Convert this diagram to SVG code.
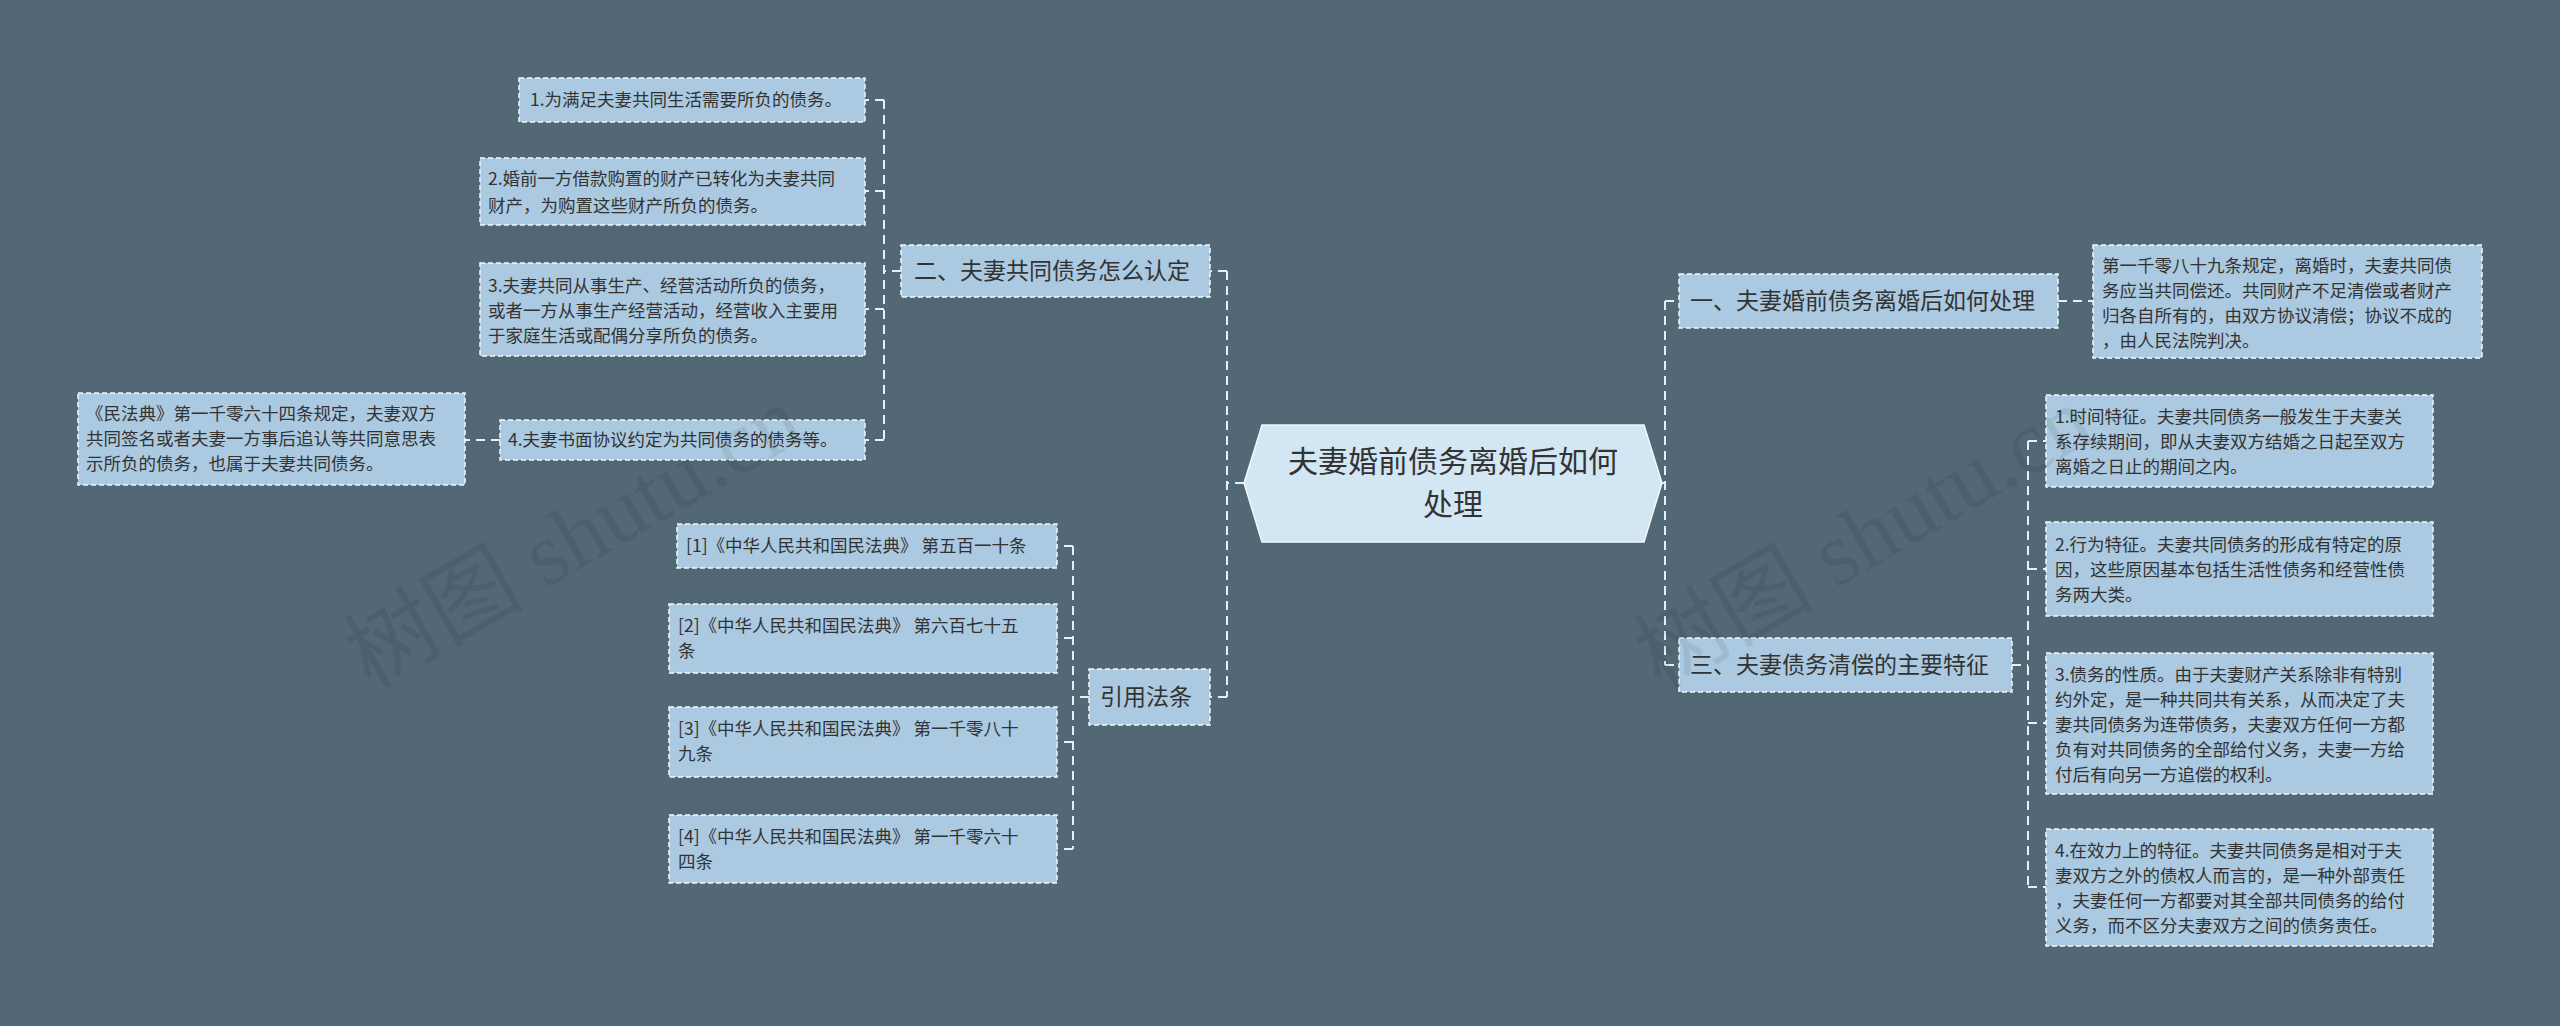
<svg xmlns="http://www.w3.org/2000/svg" width="2560" height="1026" viewBox="0 0 2560 1026">
<style>
.bg{fill:#526877}
.box{fill:#abc9e0;stroke:#f2f6f8;stroke-width:1.5;stroke-dasharray:5 3}
.t{font-family:"Noto Sans CJK SC","Liberation Sans",sans-serif;fill:#333;font-size:17.5px}
.m{font-size:23px}
.c{font-size:30px}
.ln{fill:none;stroke:#e8eef2;stroke-width:2;stroke-dasharray:9 6}
.wm{font-family:"Liberation Serif","Noto Sans CJK SC",serif;font-size:90px;fill:#000;opacity:0.07}
</style>
<rect class="bg" width="2560" height="1026"/>
<g id="connectors">
<path class="ln" d="M1244 483 H1227 M1227 271 V697 M1227 271 H1210 M1227 697 H1210"/>
<path class="ln" d="M901 271 H884 M884 100 V440 M884 100 H865 M884 191 H865 M884 309 H865 M884 440 H865 M500 440 H465"/>
<path class="ln" d="M1089 697 H1073 M1073 546 V849 M1073 546 H1057 M1073 638 H1057 M1073 742 H1057 M1073 849 H1057"/>
<path class="ln" d="M1662 483 H1665 M1665 301 V665 M1665 301 H1679 M1665 665 H1679 M2058 301 H2093"/>
<path class="ln" d="M2012 665 H2028 M2028 441 V887 M2028 441 H2046 M2028 569 H2046 M2028 723 H2046 M2028 887 H2046"/>
</g>
<g id="center">
<polygon points="1262,425 1644,425 1662,483 1644,542 1262,542 1244,483" fill="#d2e7f3" stroke="#f2f6f8" stroke-width="1.5"/>
<text class="t c" text-anchor="middle"><tspan x="1453" y="472">夫妻婚前债务离婚后如何</tspan><tspan x="1453" y="515">处理</tspan></text>
</g>
<g id="n2"><rect class="box" x="901" y="245" width="309" height="52"/><text class="t m" x="914" y="279">二、夫妻共同债务怎么认定</text></g>
<g id="n2a"><rect class="box" x="519" y="78" width="346" height="44"/><text class="t" x="530" y="106">1.为满足夫妻共同生活需要所负的债务。</text></g>
<g id="n2b"><rect class="box" x="480" y="158" width="385" height="67"/><text class="t"><tspan x="488" y="185">2.婚前一方借款购置的财产已转化为夫妻共同</tspan><tspan x="488" y="212">财产，为购置这些财产所负的债务。</tspan></text></g>
<g id="n2c"><rect class="box" x="480" y="263" width="385" height="93"/><text class="t"><tspan x="488" y="292">3.夫妻共同从事生产、经营活动所负的债务，</tspan><tspan x="488" y="317">或者一方从事生产经营活动，经营收入主要用</tspan><tspan x="488" y="342">于家庭生活或配偶分享所负的债务。</tspan></text></g>
<g id="n2d"><rect class="box" x="500" y="420" width="365" height="40"/><text class="t" x="508" y="446">4.夫妻书面协议约定为共同债务的债务等。</text></g>
<g id="n2d1"><rect class="box" x="78" y="393" width="387" height="92"/><text class="t"><tspan x="86" y="420">《民法典》第一千零六十四条规定，夫妻双方</tspan><tspan x="86" y="445">共同签名或者夫妻一方事后追认等共同意思表</tspan><tspan x="86" y="470">示所负的债务，也属于夫妻共同债务。</tspan></text></g>
<g id="n4"><rect class="box" x="1089" y="669" width="121" height="56"/><text class="t m" x="1100" y="705">引用法条</text></g>
<g id="n4a"><rect class="box" x="677" y="524" width="380" height="44"/><text class="t" x="686" y="552">[1]《中华人民共和国民法典》 第五百一十条</text></g>
<g id="n4b"><rect class="box" x="669" y="604" width="388" height="69"/><text class="t"><tspan x="678" y="632">[2]《中华人民共和国民法典》 第六百七十五</tspan><tspan x="678" y="657">条</tspan></text></g>
<g id="n4c"><rect class="box" x="669" y="707" width="388" height="70"/><text class="t"><tspan x="678" y="735">[3]《中华人民共和国民法典》 第一千零八十</tspan><tspan x="678" y="760">九条</tspan></text></g>
<g id="n4d"><rect class="box" x="669" y="815" width="388" height="68"/><text class="t"><tspan x="678" y="843">[4]《中华人民共和国民法典》 第一千零六十</tspan><tspan x="678" y="868">四条</tspan></text></g>
<g id="n1"><rect class="box" x="1679" y="274" width="379" height="54"/><text class="t m" x="1690" y="309">一、夫妻婚前债务离婚后如何处理</text></g>
<g id="n1a"><rect class="box" x="2093" y="245" width="389" height="113"/><text class="t"><tspan x="2102" y="272">第一千零八十九条规定，离婚时，夫妻共同债</tspan><tspan x="2102" y="297">务应当共同偿还。共同财产不足清偿或者财产</tspan><tspan x="2102" y="322">归各自所有的，由双方协议清偿；协议不成的</tspan><tspan x="2102" y="347">，由人民法院判决。</tspan></text></g>
<g id="n3"><rect class="box" x="1679" y="638" width="333" height="54"/><text class="t m" x="1690" y="673">三、夫妻债务清偿的主要特征</text></g>
<g id="n3a"><rect class="box" x="2046" y="395" width="387" height="92"/><text class="t"><tspan x="2055" y="423">1.时间特征。夫妻共同债务一般发生于夫妻关</tspan><tspan x="2055" y="448">系存续期间，即从夫妻双方结婚之日起至双方</tspan><tspan x="2055" y="473">离婚之日止的期间之内。</tspan></text></g>
<g id="n3b"><rect class="box" x="2046" y="522" width="387" height="94"/><text class="t"><tspan x="2055" y="551">2.行为特征。夫妻共同债务的形成有特定的原</tspan><tspan x="2055" y="576">因，这些原因基本包括生活性债务和经营性债</tspan><tspan x="2055" y="601">务两大类。</tspan></text></g>
<g id="n3c"><rect class="box" x="2046" y="653" width="387" height="141"/><text class="t"><tspan x="2055" y="681">3.债务的性质。由于夫妻财产关系除非有特别</tspan><tspan x="2055" y="706">约外定，是一种共同共有关系，从而决定了夫</tspan><tspan x="2055" y="731">妻共同债务为连带债务，夫妻双方任何一方都</tspan><tspan x="2055" y="756">负有对共同债务的全部给付义务，夫妻一方给</tspan><tspan x="2055" y="781">付后有向另一方追偿的权利。</tspan></text></g>
<g id="n3d"><rect class="box" x="2046" y="829" width="387" height="117"/><text class="t"><tspan x="2055" y="857">4.在效力上的特征。夫妻共同债务是相对于夫</tspan><tspan x="2055" y="882">妻双方之外的债权人而言的，是一种外部责任</tspan><tspan x="2055" y="907">，夫妻任何一方都要对其全部共同债务的给付</tspan><tspan x="2055" y="932">义务，而不区分夫妻双方之间的债务责任。</tspan></text></g>
<text class="wm" transform="translate(370 690) rotate(-30)">树图 shutu.cn</text>
<text class="wm" transform="translate(1660 690) rotate(-30)">树图 shutu.cn</text>
</svg>
